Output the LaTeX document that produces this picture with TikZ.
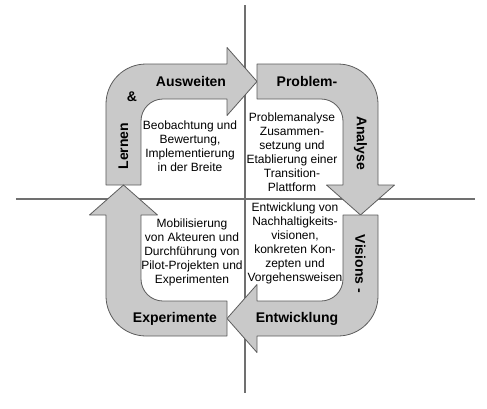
\documentclass[tikz,border=0pt]{standalone}
\usepackage{fontspec}
\setmainfont{Liberation Sans}
\usetikzlibrary{positioning}
\definecolor{arrowFill}{HTML}{C9C9C9}
\definecolor{arrowLine}{HTML}{5C5C5C}
\definecolor{axisColor}{HTML}{707070}
\tikzset{
	bent arrow/.pic={
		\draw[fill=arrowFill,draw=arrowLine,line width=0.8pt,line join=round]
		(-136,15) -- (-136,96) arc[start angle=180,end angle=90,radius=40] -- (-15,136)
		-- (-15,152.5) -- (15,118.5) -- (-15,84.5) -- (-15,101)
		-- (-79,101) arc[start angle=90,end angle=180,radius=22] -- (-101,15) -- cycle;
	},
	phase label/.style={font=\bfseries\fontsize{14}{16}\selectfont, inner sep=0pt},
	phase text/.style={font=\fontsize{12}{14}\selectfont, align=center, inner sep=0pt},
	axis line/.style={draw=axisColor, line width=2pt}
}

\begin{document}
\begin{tikzpicture}[x=1pt,y=1pt]
	\useasboundingbox (-242,-208) rectangle (245,200);
	\coordinate (ax_n) at (2.5,195);
	\coordinate (ax_s) at (2.5,-193);
	\coordinate (ax_w) at (-226,1.5);
	\coordinate (ax_e) at (233,1.5);
	\draw[axis line] (ax_n) -- (ax_s);
	\draw[axis line] (ax_w) -- (ax_e);
	% four bent arrows, one per quadrant
	\pic at (0,0) {bent arrow};
	\pic[rotate=-90] at (0,0) {bent arrow};
	\pic[rotate=180] at (0,0) {bent arrow};
	\pic[rotate=90] at (0,0) {bent arrow};
	\node[phase label] at (-51,118.5) (l_aus) {Ausweiten};
	\node[phase label] at (-110,103) (l_und) {\&};
	\node[phase label, rotate=90] at (-118.5,54) (l_ler) {Lernen};
	\node[phase label] at (65,118.5) (l_pro) {Problem-};
	\node[phase label, rotate=-90] at (118.5,57) (l_ana) {Analyse};
	\node[phase label, rotate=-90] at (118.5,-64) (l_vis) {Visions -};
	\node[phase label] at (55,-118.5) (l_ent) {Entwicklung};
	\node[phase label] at (-67,-118.5) (l_exp) {Experimente};
	\node[phase text] at (-52,54) (q_1) {Beobachtung und\\Bewertung,\\Implementierung\\in der Breite};
	\node[phase text] at (50,48) (q_2) {Problemanalyse\\Zusammen-\\setzung und\\Etablierung einer\\Transition-\\Plattform};
	\node[phase text] at (53,-43) (q_3) {Entwicklung von\\Nachhaltigkeits-\\visionen,\\konkreten Kon-\\zepten und\\Vorgehensweisen};
	\node[phase text] at (-50,-52) (q_4) {Mobilisierung\\von Akteuren und\\Durchführung von\\Pilot-Projekten und\\Experimenten};
\end{tikzpicture}
\end{document}
